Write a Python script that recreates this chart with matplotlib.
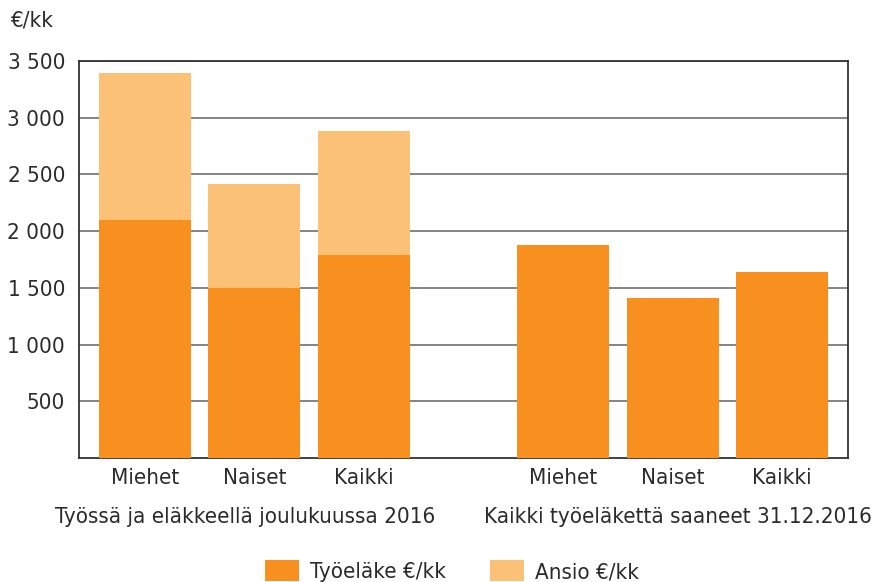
import matplotlib
matplotlib.use("Agg")
import matplotlib.pyplot as plt
from matplotlib.patches import Patch
import numpy as np

plt.rcParams['font.family'] = ['DejaVu Sans']
plt.rcParams['font.stretch'] = 'condensed'

categories = ["Miehet", "Naiset", "Kaikki", "Miehet", "Naiset", "Kaikki"]
tyoelake = [2100, 1500, 1790, 1880, 1410, 1640]
ansio_total = [3390, 2420, 2880, None, None, None]
group_labels = ["Työssä ja eläkkeellä joulukuussa 2016", "Kaikki työeläkettä saaneet 31.12.2016"]
yticks = [500, 1000, 1500, 2000, 2500, 3000, 3500]
ytick_labels = ["500", "1 000", "1 500", "2 000", "2 500", "3 000", "3 500"]
legend_labels = ["Työeläke €/kk", "Ansio €/kk"]

dark = "#F7901E"
light = "#FBC177"
txt = "#2b2b2b"
fs = 16

positions = np.array([0, 1, 2, 3.82, 4.82, 5.82])
width = 0.84

fig = plt.figure(figsize=(8.75, 5.82), dpi=100)
ax = fig.add_axes([79/875, 1-458/582, (848-79)/875, (458-61)/582])

for i, (p, v) in enumerate(zip(positions, tyoelake)):
    ax.bar(p, v, width=width, color=dark, zorder=3, linewidth=0)
    if ansio_total[i] is not None:
        ax.bar(p, ansio_total[i] - v, bottom=v, width=width, color=light, zorder=3, linewidth=0)

ax.set_ylim(0, 3500)
ax.set_xlim(-0.60, 6.42)
ax.set_yticks(yticks)
ax.set_yticklabels(ytick_labels)
ax.yaxis.grid(True, color="#707070", linewidth=1.2, zorder=0)
ax.set_axisbelow(True)
ax.tick_params(axis='y', length=0, pad=10, labelsize=fs, labelcolor=txt)
ax.set_xticks(positions)
ax.set_xticklabels(categories)
ax.tick_params(axis='x', length=0, pad=7, labelsize=fs, labelcolor=txt)
for s in ax.spines.values():
    s.set_color("#333333")
    s.set_linewidth(1.3)

gc = [positions[:3].mean() - 0.08, positions[3:].mean() + 0.05]
for c, lab in zip(gc, group_labels):
    ax.text(c, -0.148, lab, transform=ax.get_xaxis_transform(), ha='center', va='center',
            fontsize=fs, color=txt)

fig.text(10/875, 1-20/582, "€/kk", fontsize=fs, color=txt, ha='left', va='center')

handles = [Patch(facecolor=dark, edgecolor='none'), Patch(facecolor=light, edgecolor='none')]
fig.legend(handles, legend_labels, loc='center', bbox_to_anchor=(452/875, 1-571/582), ncol=2,
           frameon=False, fontsize=fs, handlelength=1.5, handleheight=1.1,
           handletextpad=0.5, columnspacing=2.0, labelcolor=txt)

fig.savefig("out.png", dpi=100)
